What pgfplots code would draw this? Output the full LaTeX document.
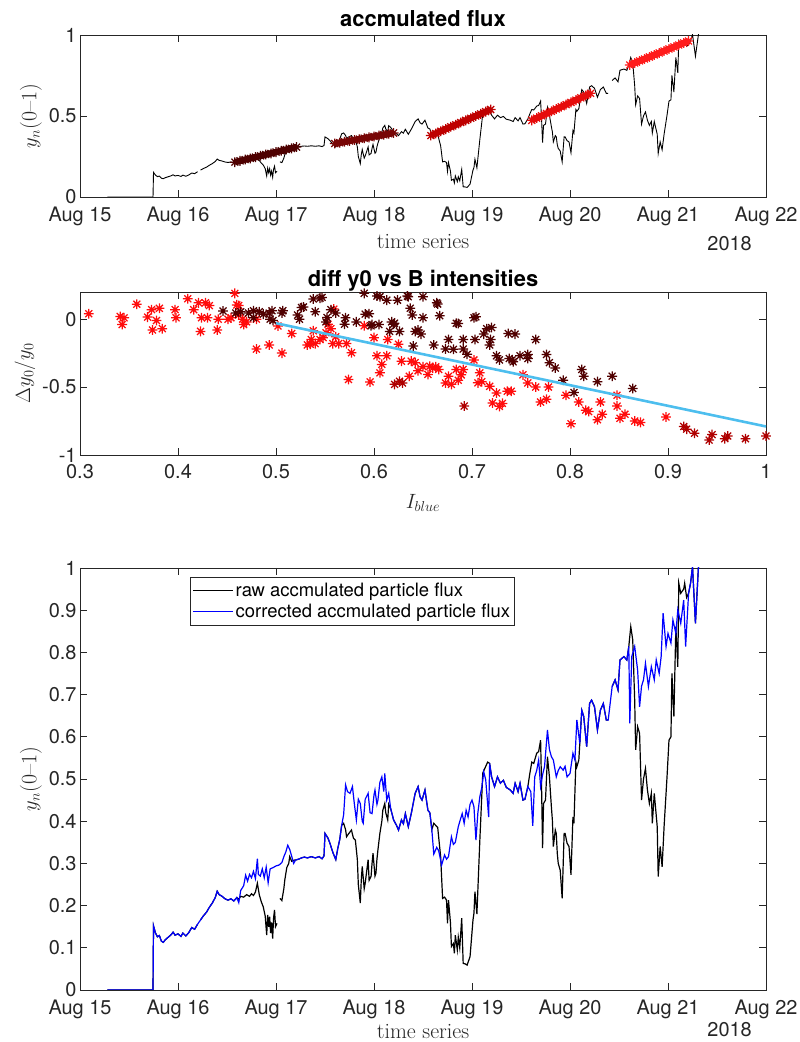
\documentclass[border=0pt]{standalone}
\usepackage{pgfplots}
\usepackage{pgfplotstable}
\pgfplotsset{compat=1.18}
\usepackage{fontspec}
\newfontfamily\helv{TeX Gyre Heros}

\definecolor{axgray}{RGB}{38,38,38}
\definecolor{fitblue}{RGB}{77,190,238}
\definecolor{dayA}{RGB}{78,0,0}
\definecolor{dayB}{RGB}{120,6,6}
\definecolor{dayC}{RGB}{190,0,0}
\definecolor{dayD}{RGB}{230,12,12}
\definecolor{dayE}{RGB}{255,28,28}
\definecolor{ptdark}{RGB}{80,0,0}
\definecolor{ptmid}{RGB}{175,0,0}
\definecolor{ptred}{RGB}{255,12,12}

% eight-armed asterisk
\pgfdeclareplotmark{ast8}{%
 \pgfpathmoveto{\pgfqpoint{-\pgfplotmarksize}{0pt}}%
 \pgfpathlineto{\pgfqpoint{\pgfplotmarksize}{0pt}}%
 \pgfpathmoveto{\pgfqpoint{0pt}{-\pgfplotmarksize}}%
 \pgfpathlineto{\pgfqpoint{0pt}{\pgfplotmarksize}}%
 \pgfpathmoveto{\pgfqpoint{-0.707\pgfplotmarksize}{-0.707\pgfplotmarksize}}%
 \pgfpathlineto{\pgfqpoint{0.707\pgfplotmarksize}{0.707\pgfplotmarksize}}%
 \pgfpathmoveto{\pgfqpoint{-0.707\pgfplotmarksize}{0.707\pgfplotmarksize}}%
 \pgfpathlineto{\pgfqpoint{0.707\pgfplotmarksize}{-0.707\pgfplotmarksize}}%
 \pgfusepathqstroke}

% short horizontal legend sample in a fixed colour
\newcommand{\legsample}[1]{%
  \pgfsetlinewidth{1.4bp}\pgfsetstrokecolor{#1}%
  \pgfpathmoveto{\pgfqpoint{0bp}{0bp}}%
  \pgfpathlineto{\pgfqpoint{40bp}{0bp}}%
  \pgfusepath{stroke}}

% corrected accumulated flux (days since Aug 15)
\pgfplotstableread{
d v
0.28 0
0.745 0
0.75 0.152
0.77 0.135
0.79 0.126
0.81 0.129
0.83 0.116
0.85 0.113
0.87 0.119
0.90 0.125
0.93 0.131
0.95 0.137
0.97 0.130
1.00 0.133
1.03 0.127
1.05 0.135
1.08 0.128
1.11 0.136
1.14 0.148
1.17 0.144
1.20 0.156
1.23 0.166
1.26 0.176
1.29 0.184
1.32 0.196
1.35 0.206
1.38 0.219
1.40 0.234
1.42 0.226
1.45 0.222
1.48 0.216
1.51 0.213
1.54 0.216
1.57 0.211
1.60 0.219
1.62 0.207
1.64 0.236
1.67 0.247
1.69 0.272
1.71 0.258
1.73 0.274
1.75 0.266
1.77 0.281
1.79 0.264
1.81 0.311
1.82 0.274
1.84 0.270
1.86 0.287
1.88 0.266
1.90 0.291
1.92 0.254
1.94 0.287
1.97 0.290
2.00 0.294
2.03 0.296
2.06 0.302
2.08 0.316
2.10 0.327
2.12 0.343
2.14 0.333
2.16 0.317
2.18 0.300
2.20 0.308
2.23 0.310
2.26 0.313
2.29 0.315
2.32 0.313
2.36 0.316
2.40 0.313
2.44 0.316
2.47 0.311
2.49 0.318
2.50 0.371
2.53 0.360
2.55 0.348
2.58 0.326
2.61 0.309
2.63 0.335
2.65 0.356
2.67 0.390
2.69 0.415
2.71 0.486
2.73 0.470
2.755 0.466
2.78 0.482
2.80 0.440
2.82 0.403
2.84 0.452
2.86 0.442
2.88 0.400
2.89 0.395
2.91 0.452
2.94 0.466
2.96 0.420
2.98 0.418
3.00 0.462
3.01 0.474
3.03 0.440
3.04 0.450
3.06 0.492
3.08 0.505
3.10 0.470
3.11 0.513
3.13 0.450
3.15 0.466
3.17 0.430
3.20 0.403
3.23 0.390
3.25 0.379
3.28 0.403
3.30 0.394
3.32 0.418
3.35 0.387
3.38 0.418
3.40 0.442
3.42 0.466
3.45 0.482
3.47 0.458
3.49 0.450
3.52 0.474
3.55 0.426
3.57 0.420
3.59 0.380
3.61 0.322
3.64 0.338
3.66 0.330
3.69 0.296
3.72 0.320
3.74 0.310
3.76 0.316
3.79 0.363
3.81 0.345
3.83 0.350
3.86 0.387
3.88 0.403
3.90 0.418
3.92 0.395
3.94 0.426
3.96 0.410
3.98 0.440
4.00 0.450
4.02 0.434
4.04 0.355
4.06 0.420
4.08 0.458
4.10 0.480
4.12 0.517
4.14 0.498
4.17 0.410
4.18 0.537
4.20 0.505
4.23 0.482
4.26 0.505
4.29 0.490
4.32 0.497
4.35 0.480
4.39 0.474
4.42 0.466
4.44 0.490
4.47 0.470
4.49 0.490
4.52 0.450
4.54 0.452
4.57 0.482
4.60 0.470
4.62 0.389
4.64 0.505
4.66 0.520
4.68 0.545
4.70 0.482
4.72 0.510
4.74 0.529
4.77 0.616
4.79 0.570
4.81 0.553
4.83 0.545
4.86 0.505
4.88 0.520
4.90 0.529
4.93 0.521
4.95 0.530
4.97 0.505
5.00 0.513
5.03 0.561
5.05 0.545
5.07 0.640
5.10 0.584
5.12 0.663
5.14 0.648
5.17 0.577
5.20 0.679
5.22 0.687
5.25 0.671
5.28 0.616
5.31 0.663
5.34 0.679
5.37 0.640
5.39 0.640
5.43 0.719
5.46 0.735
5.49 0.711
5.51 0.782
5.55 0.790
5.58 0.782
5.60 0.814
5.61 0.632
5.63 0.790
5.66 0.814
5.69 0.758
5.71 0.671
5.73 0.720
5.75 0.735
5.77 0.774
5.80 0.719
5.83 0.766
5.86 0.735
5.88 0.782
5.91 0.750
5.93 0.790
5.95 0.893
5.98 0.814
6.00 0.845
6.03 0.822
6.05 0.877
6.08 0.845
6.10 0.901
6.13 0.869
6.16 0.924
6.18 0.814
6.21 0.940
6.23 0.964
6.25 1.003
6.28 0.869
6.31 1.000
6.33 1.060
}\cortab

% raw accumulated flux (nan marks data gaps)
\pgfplotstableread{
d v
0.28 0
0.745 0
0.75 0.152
0.77 0.135
0.79 0.126
0.81 0.129
0.83 0.116
0.85 0.113
0.87 0.119
0.90 0.125
0.93 0.131
0.95 0.137
0.97 0.130
1.00 0.133
1.03 0.127
1.05 0.135
1.08 0.128
1.11 0.136
1.14 0.148
1.17 0.144
1.20 0.156
1.215 nan
1.23 0.166
1.26 0.176
1.29 0.184
1.32 0.196
1.35 0.206
1.38 0.219
1.40 0.234
1.42 0.226
1.45 0.222
1.48 0.216
1.51 0.213
1.54 0.216
1.57 0.211
1.60 0.219
1.62 0.215
1.64 0.222
1.67 0.220
1.70 0.226
1.73 0.222
1.75 0.228
1.77 0.224
1.79 0.232
1.81 0.253
1.83 0.225
1.85 0.209
1.87 0.197
1.89 0.175
1.905 0.130
1.915 0.178
1.925 0.150
1.935 0.174
1.945 0.135
1.955 0.160
1.966 0.122
1.975 0.170
1.985 0.190
1.995 0.150
2.01 0.158
2.025 nan
2.04 0.217
2.06 0.212
2.08 0.240
2.09 0.261
2.11 0.290
2.13 0.300
2.14 0.316
2.16 0.305
2.19 0.308
2.20 0.308
2.23 0.310
2.26 0.313
2.29 0.315
2.32 0.313
2.36 0.316
2.40 0.313
2.44 0.316
2.47 0.311
2.49 0.318
2.50 0.371
2.53 0.360
2.55 0.348
2.58 0.326
2.61 0.309
2.63 0.335
2.65 0.356
2.67 0.390
2.69 0.395
2.71 0.380
2.72 0.363
2.74 0.370
2.77 0.379
2.79 0.360
2.81 0.355
2.83 0.309
2.84 0.250
2.86 0.206
2.87 0.260
2.88 0.293
2.90 0.240
2.91 0.253
2.93 0.290
2.94 0.309
2.95 0.260
2.97 0.269
2.98 0.300
2.99 0.324
3.01 0.270
3.02 0.277
3.03 0.310
3.04 0.332
3.06 0.371
3.08 0.400
3.09 0.426
3.11 0.442
3.12 0.420
3.14 0.403
3.15 0.440
3.17 0.430
3.20 0.403
3.23 0.390
3.25 0.379
3.28 0.403
3.30 0.394
3.32 0.418
3.35 0.387
3.38 0.418
3.40 0.442
3.42 0.466
3.45 0.482
3.47 0.458
3.49 0.450
3.52 0.474
3.55 0.426
3.57 0.420
3.59 0.380
3.61 0.395
3.63 0.390
3.65 0.385
3.68 0.316
3.70 0.217
3.72 0.220
3.74 0.213
3.75 0.158
3.76 0.213
3.78 0.160
3.79 0.103
3.81 0.110
3.82 0.087
3.83 0.130
3.85 0.095
3.86 0.125
3.875 0.100
3.895 0.170
3.91 0.063
3.93 0.062
3.95 0.059
3.98 0.079
4.01 0.166
4.02 0.182
4.03 0.233
4.05 0.180
4.08 0.355
4.11 0.514
4.14 0.530
4.16 0.540
4.18 0.537
4.20 0.505
4.23 0.482
4.26 0.505
4.29 0.490
4.32 0.497
4.35 0.480
4.39 0.474
4.42 0.466
4.44 0.490
4.47 0.470
4.49 0.490
4.52 0.450
4.54 0.452
4.57 0.482
4.59 0.513
4.61 0.540
4.63 0.537
4.66 0.561
4.68 0.565
4.70 0.592
4.71 0.480
4.72 0.336
4.73 0.442
4.75 0.450
4.77 0.553
4.79 0.505
4.81 0.434
4.82 0.403
4.83 0.340
4.85 0.379
4.86 0.371
4.87 0.324
4.88 0.300
4.90 0.284
4.92 0.217
4.94 0.371
4.95 0.371
4.97 0.348
4.99 0.340
5.01 0.273
5.03 0.410
5.04 0.395
5.06 0.540
5.07 0.529
5.09 0.545
5.10 0.584
5.12 0.663
5.14 0.648
5.17 0.577
5.20 0.679
5.22 0.687
5.25 0.671
5.28 0.616
5.31 0.663
5.34 0.679
5.37 0.640
5.39 0.640
5.41 nan
5.43 0.719
5.46 0.735
5.49 0.711
5.51 0.782
5.55 0.790
5.58 0.782
5.60 0.814
5.62 0.861
5.64 0.830
5.66 0.687
5.67 0.569
5.69 0.624
5.71 0.608
5.73 0.450
5.75 0.500
5.77 0.525
5.79 0.474
5.81 0.442
5.83 0.466
5.84 0.395
5.86 0.466
5.89 0.387
5.90 0.269
5.92 0.340
5.94 0.292
5.96 0.387
5.99 0.505
6.01 0.592
6.03 0.600
6.04 0.750
6.06 0.648
6.08 0.861
6.10 0.766
6.11 0.964
6.13 0.940
6.16 0.950
6.17 0.964
6.19 0.930
6.21 0.940
6.23 0.964
6.25 1.003
6.28 0.869
6.31 1.000
6.33 1.060
}\rawtab

\pgfplotsset{
  mpanel/.style={
    scale only axis, width=686bp, anchor=south west,
    clip mode=individual,
    axis line style={axgray, line width=0.6bp},
    every tick/.append style={axgray, line width=0.6bp},
    major tick length=7bp,
    tick align=inside,
    tick label style={font=\helv\fontsize{20}{24}\selectfont, text=axgray},
    xticklabel style={yshift=-6bp},
    label style={font=\fontsize{22}{26}\selectfont, text=axgray},
    unbounded coords=jump,
  },
  dates/.style={xmin=0, xmax=7, xtick={0,1,2,3,4,5,6,7},
    xticklabels={Aug 15,Aug 16,Aug 17,Aug 18,Aug 19,Aug 20,Aug 21,Aug 22},
    xlabel={time series}, ylabel={$y_n$(0--1)}},
  trend/.style={only marks, mark=ast8, mark size=4.9bp, line width=1.25bp},
  band/.style={line width=6.5bp},
}

% year stamp under the right end of a date axis
\newcommand{\yearlabel}[1]{\node[anchor=north east, inner sep=0pt,
  font=\helv\fontsize{20}{24}\selectfont, text=axgray,
  xshift=-14bp, yshift=-#1] at (rel axis cs:1,0) {2018};}
% bold heading sitting just above the axis box
\newcommand{\paneltitle}[2]{\node[anchor=base, inner sep=0pt,
  font=\helv\bfseries\fontsize{22}{26}\selectfont,
  yshift=#1] at (rel axis cs:0.5,1) {#2};}

\begin{document}
\begin{tikzpicture}
\useasboundingbox (0,0) rectangle (800bp,1042bp);

% ---- top: raw flux with daily trend segments
\begin{axis}[mpanel, dates, at={(80bp,845bp)}, height=162bp,
  ymin=0, ymax=1, ytick={0,0.5,1}, yticklabels={0,0.5,1},
  xlabel style={yshift=-2bp}]
\addplot[black, line width=0.9bp] table[x=d, y=v] {\rawtab};
\addplot[dayA, band] coordinates {(1.58,0.215) (2.21,0.308)};
\addplot[dayA, trend] coordinates {
(1.580,0.215) (1.633,0.223) (1.685,0.231) (1.738,0.238) (1.790,0.246)
(1.843,0.254) (1.895,0.262) (1.948,0.269) (2.000,0.277) (2.053,0.285)
(2.105,0.293) (2.158,0.300) (2.210,0.308)};
\addplot[dayB, band] coordinates {(2.60,0.330) (3.20,0.395)};
\addplot[dayB, trend] coordinates {
(2.60,0.330) (2.65,0.335) (2.70,0.341) (2.75,0.346) (2.80,0.352)
(2.85,0.357) (2.90,0.363) (2.95,0.368) (3.00,0.373) (3.05,0.379)
(3.10,0.384) (3.15,0.390) (3.20,0.395)};
\addplot[dayC, band] coordinates {(3.58,0.379) (4.19,0.540)};
\addplot[dayC, trend] coordinates {
(3.580,0.379) (3.631,0.392) (3.682,0.406) (3.733,0.419) (3.783,0.433)
(3.834,0.446) (3.885,0.460) (3.936,0.473) (3.987,0.486) (4.038,0.500)
(4.088,0.513) (4.139,0.527) (4.190,0.540)};
\addplot[dayD, band] coordinates {(4.61,0.473) (5.21,0.640)};
\addplot[dayD, trend] coordinates {
(4.61,0.473) (4.66,0.487) (4.71,0.501) (4.76,0.515) (4.81,0.529)
(4.86,0.543) (4.91,0.557) (4.96,0.570) (5.01,0.584) (5.06,0.598)
(5.11,0.612) (5.16,0.626) (5.21,0.640)};
\addplot[dayE, band] coordinates {(5.61,0.815) (6.21,0.963)};
\addplot[dayE, trend] coordinates {
(5.61,0.815) (5.66,0.827) (5.71,0.840) (5.76,0.852) (5.81,0.864)
(5.86,0.877) (5.91,0.889) (5.96,0.901) (6.01,0.914) (6.06,0.926)
(6.11,0.938) (6.16,0.951) (6.21,0.963)};
\yearlabel{39bp}
\paneltitle{8bp}{accmulated flux}
\end{axis}

% ---- middle: relative change against blue intensity
\begin{axis}[mpanel, at={(80bp,587bp)}, height=163bp,
  xmin=0.3, xmax=1, ymin=-1, ymax=0.2,
  xtick={0.3,0.4,0.5,0.6,0.7,0.8,0.9,1},
  xticklabels={0.3,0.4,0.5,0.6,0.7,0.8,0.9,1},
  ytick={-1,-0.5,0}, yticklabels={-1,-0.5,0},
  xlabel={$I_{blue}$}, ylabel={$\Delta y_0/y_0$},
  xlabel style={yshift=-9bp}]
\addplot[ptred, trend] table {
0.309 0.04
0.341 0.02
0.343 -0.04
0.345 0.01
0.358 0.11
0.369 0.015
0.373 0.07
0.374 -0.08
0.378 -0.01
0.381 0.08
0.384 -0.07
0.397 0.07
0.398 0.01
0.410 0.15
0.416 0.07
0.421 0.12
0.423 -0.09
0.424 0.01
0.428 0.12
0.430 0.01
0.432 0.10
0.440 -0.08
0.441 0.0
0.451 0.0
0.454 0.01
0.458 0.19
0.460 0.105
0.462 0.10
0.462 0.03
0.466 0.0
0.467 -0.04
0.470 -0.02
0.480 0.0
0.480 -0.22
0.493 -0.19
0.502 -0.05
0.506 -0.25
0.516 -0.106
0.532 -0.19
0.535 -0.185
0.536 -0.15
0.538 -0.086
0.540 -0.18
0.545 -0.15
0.548 -0.136
0.551 -0.10
0.553 -0.037
0.556 -0.07
0.558 -0.18
0.559 0.074
0.561 -0.13
0.564 -0.18
0.572 -0.18
0.574 -0.444
0.577 -0.247
0.590 -0.049
0.596 -0.462
0.600 -0.136
0.603 -0.27
0.606 -0.395
0.608 -0.333
0.613 -0.27
0.614 -0.15
0.625 -0.185
0.628 -0.309
0.636 -0.42
0.638 -0.309
0.642 -0.32
0.645 -0.38
0.650 -0.35
0.655 -0.407
0.657 -0.346
0.660 -0.36
0.663 -0.35
0.666 -0.37
0.673 -0.47
0.676 -0.42
0.679 -0.48
0.684 -0.37
0.686 -0.45
0.689 -0.41
0.691 -0.37
0.702 -0.30
0.706 -0.469
0.708 -0.395
0.710 -0.46
0.718 -0.494
0.721 -0.617
0.725 -0.543
0.728 -0.642
0.731 -0.62
0.736 -0.53
0.740 -0.531
0.752 -0.41
0.757 -0.47
0.765 -0.50
0.770 -0.61
0.776 -0.59
0.778 -0.50
0.796 -0.56
0.801 -0.77
0.809 -0.61
0.816 -0.67
0.819 -0.68
0.828 -0.74
0.831 -0.61
0.833 -0.70
0.848 -0.56
0.848 -0.64
0.851 -0.73
0.856 -0.70
0.866 -0.75
0.872 -0.76
0.898 -0.72
};
\addplot[ptmid, trend] table {
0.621 -0.48
0.626 -0.457
0.629 -0.47
0.692 -0.64
0.916 -0.79
0.919 -0.81
0.927 -0.84
0.942 -0.89
0.945 -0.85
0.958 -0.88
0.961 -0.86
0.979 -0.88
1.000 -0.86
};
\addplot[ptdark, trend] table {
0.446 0.06
0.459 0.045
0.464 0.055
0.472 0.045
0.477 0.062
0.477 0.01
0.483 0.055
0.487 0.037
0.493 0.045
0.494 0.0
0.496 0.062
0.497 -0.01
0.506 0.045
0.507 0.062
0.522 0.03
0.524 0.0
0.526 0.086
0.528 0.09
0.538 0.148
0.540 0.055
0.545 0.155
0.547 0.16
0.551 -0.02
0.552 0.012
0.556 0.07
0.561 0.045
0.570 -0.037
0.571 0.01
0.582 -0.02
0.590 0.19
0.591 0.037
0.595 0.04
0.597 -0.049
0.598 -0.04
0.600 0.222
0.603 0.17
0.605 -0.04
0.606 0.165
0.613 0.14
0.616 -0.09
0.618 -0.02
0.620 -0.037
0.621 -0.03
0.624 0.14
0.626 -0.09
0.634 0.17
0.635 0.165
0.637 0.08
0.639 0.03
0.640 -0.198
0.642 -0.09
0.645 -0.08
0.648 -0.11
0.650 0.165
0.650 0.01
0.661 -0.19
0.664 0.12
0.665 0.111
0.667 0.025
0.673 -0.22
0.676 -0.15
0.681 -0.222
0.684 -0.03
0.686 -0.032
0.691 -0.15
0.691 -0.22
0.695 -0.259
0.702 0.01
0.703 -0.15
0.704 0.017
0.712 -0.11
0.715 -0.07
0.718 -0.19
0.719 -0.15
0.720 -0.062
0.725 -0.27
0.728 -0.30
0.737 -0.106
0.738 -0.29
0.741 -0.30
0.742 -0.314
0.744 -0.11
0.749 -0.27
0.757 -0.26
0.757 -0.29
0.765 -0.15
0.776 -0.26
0.779 -0.32
0.785 -0.36
0.793 -0.45
0.804 -0.54
0.812 -0.37
0.814 -0.42
0.828 -0.46
0.843 -0.42
0.864 -0.51
};
\addplot[fitblue, line width=2.6bp] coordinates {(0.5,-0.03) (1,-0.79)};
\paneltitle{5bp}{diff y0 vs B intensities}
\end{axis}

% ---- bottom: raw vs corrected
\begin{axis}[mpanel, dates, at={(80bp,52bp)}, height=422bp,
  ymin=0, ymax=1,
  ytick={0,0.1,0.2,0.3,0.4,0.5,0.6,0.7,0.8,0.9,1},
  yticklabels={0,0.1,0.2,0.3,0.4,0.5,0.6,0.7,0.8,0.9,1},
  xlabel style={yshift=1bp},
  legend style={at={(0.1604,0.9787)}, anchor=north west,
    draw=axgray, line width=0.6bp, fill=white,
    font=\helv\fontsize{18.5}{22}\selectfont,
    inner xsep=2bp, inner ysep=4bp, row sep=2bp,
    cells={anchor=west}}]
\addplot[black, line width=1.2bp,
  legend image code/.code={\legsample{black}}]
  table[x=d, y=v] {\rawtab};
\addplot[blue, line width=1.2bp,
  legend image code/.code={\legsample{blue}}]
  table[x=d, y=v] {\cortab};
\legend{raw accmulated particle flux, corrected accmulated particle flux}
\yearlabel{32bp}
\end{axis}
\end{tikzpicture}
\end{document}
